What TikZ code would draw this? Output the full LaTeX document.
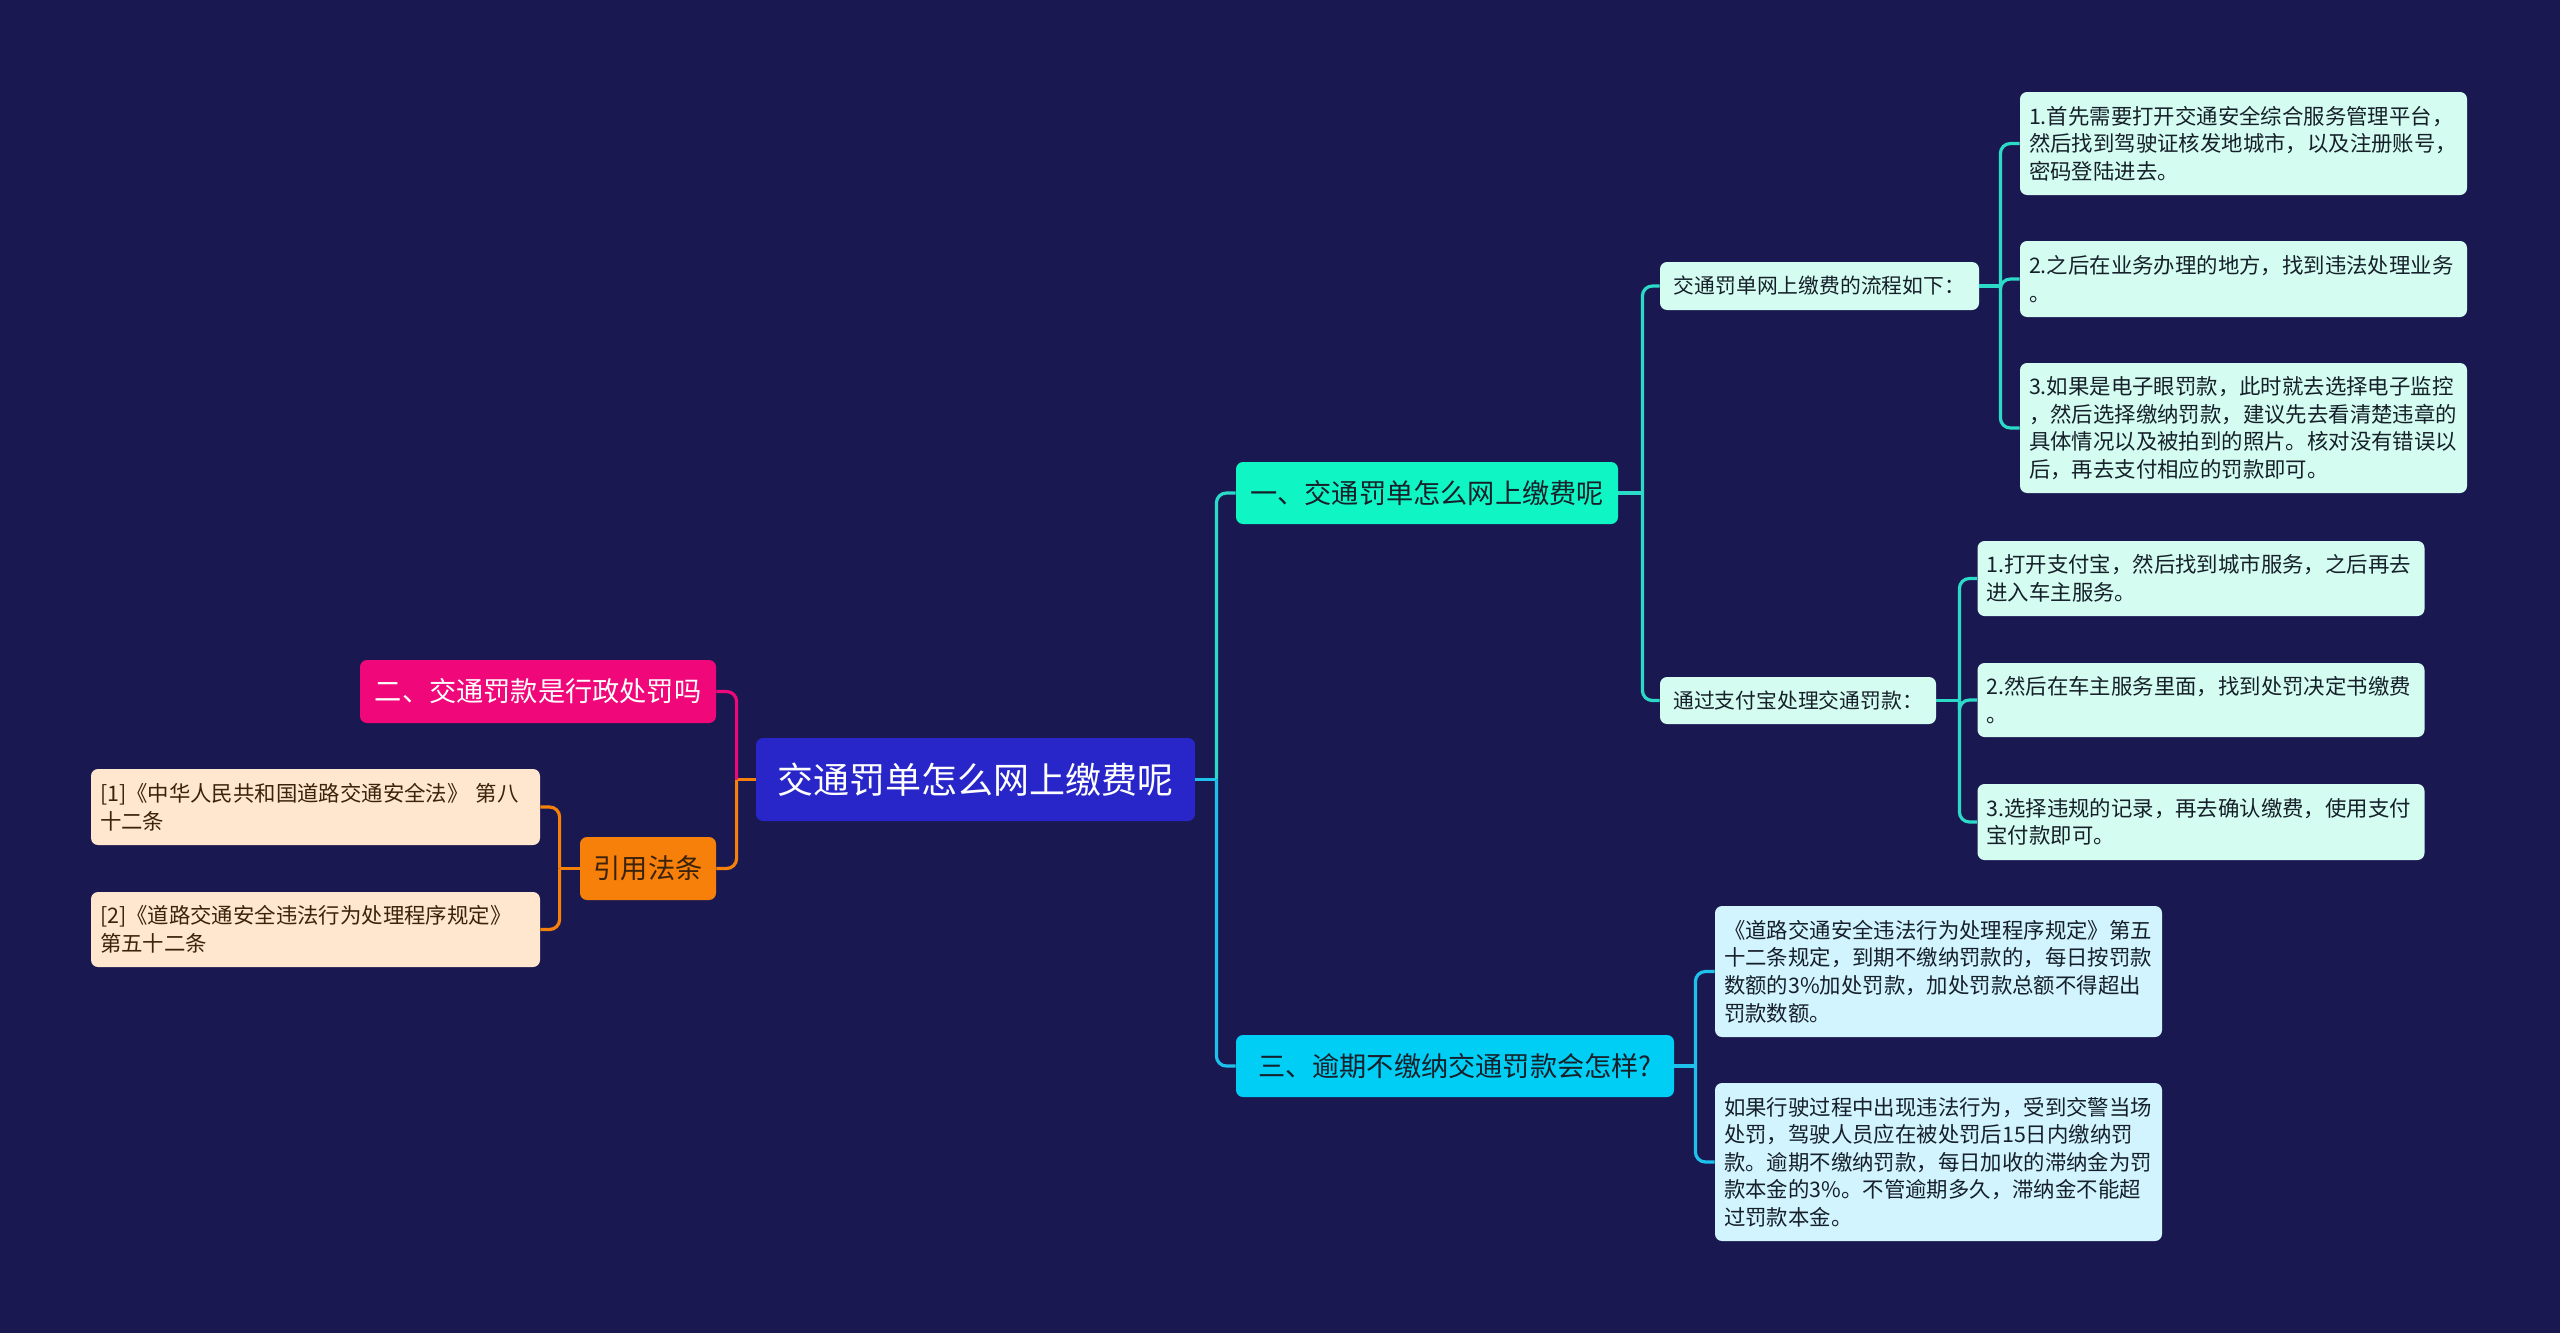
\documentclass[tikz,border=0pt]{standalone}
\usepackage{fontspec}
\setmainfont{Noto Sans CJK SC}
\definecolor{bgnavy}{RGB}{26,24,80}
\definecolor{rootblue}{RGB}{40,38,200}
\definecolor{mintbr}{RGB}{16,245,196}
\definecolor{cyanbr}{RGB}{0,206,245}
\definecolor{pinkbr}{RGB}{240,8,122}
\definecolor{orangebr}{RGB}{247,128,10}
\definecolor{mintleaf}{RGB}{212,252,240}
\definecolor{cyanleaf}{RGB}{210,244,254}
\definecolor{peachleaf}{RGB}{255,230,206}
\definecolor{mintline}{RGB}{44,218,200}
\definecolor{cyanline}{RGB}{30,192,236}
\definecolor{inkdark}{RGB}{22,32,42}
\definecolor{inkbrown}{RGB}{58,34,12}
\tikzset{
  box/.style={rounded corners=3.5pt, inner xsep=4.5pt, inner ysep=2pt, anchor=center},
  rootbox/.style={box, fill=rootblue, text=white, font=\fontsize{18}{22}\selectfont},
  branchbox/.style={box, text=inkdark, font=\fontsize{13.6}{16}\selectfont},
  subbox/.style={box, fill=mintleaf, text=inkdark, font=\fontsize{10.4}{13}\selectfont},
  leafbox/.style={box, align=left, text width=214.5pt, text=inkdark, font=\fontsize{10.7}{13.8}\selectfont},
  link/.style={line width=1.6pt, rounded corners=5pt},
}

\begin{document}
\begin{tikzpicture}[x=0.5pt, y=-0.5pt]
  \fill[bgnavy] (0,0) rectangle (2560,1333);

  % centre and main branches
  \node[rootbox, minimum width=219.5pt, minimum height=41.5pt] (root) at (975.5,779.5) {交通罚单怎么网上缴费呢};
  \node[branchbox, fill=mintbr, minimum width=191pt, minimum height=31pt] (pay) at (1427,493) {一、交通罚单怎么网上缴费呢};
  \node[branchbox, fill=cyanbr, minimum width=219pt, minimum height=31pt] (late) at (1455,1066) {三、逾期不缴纳交通罚款会怎样?};
  \node[branchbox, fill=pinkbr, text=white, minimum width=178pt, minimum height=31.5pt] (admin) at (538,691.5) {二、交通罚款是行政处罚吗};
  \node[branchbox, fill=orangebr, text=inkbrown, minimum width=68pt, minimum height=31.5pt] (cite) at (648,868.5) {引用法条};

  % cited laws
  \node[leafbox, fill=peachleaf, text=inkbrown, text width=215.5pt, minimum height=38pt] (lawa) at (315.5,807) {[1]《中华人民共和国道路交通安全法》 第八\\十二条};
  \node[leafbox, fill=peachleaf, text=inkbrown, text width=215.5pt, minimum height=37.5pt] (lawb) at (315.5,929.5) {[2]《道路交通安全违法行为处理程序规定》\\第五十二条};

  % online payment
  \node[subbox, minimum width=159.5pt, minimum height=24pt] (flow) at (1819.5,286) {交通罚单网上缴费的流程如下：};
  \node[subbox, minimum width=138pt, minimum height=23.5pt] (alipay) at (1798,700.5) {通过支付宝处理交通罚款：};

  \node[leafbox, fill=mintleaf, minimum height=51.5pt] (flowa) at (2243.5,143.5) {1.首先需要打开交通安全综合服务管理平台，\\然后找到驾驶证核发地城市，以及注册账号，\\密码登陆进去。};
  \node[leafbox, fill=mintleaf, minimum height=38pt] (flowb) at (2243.5,279) {2.之后在业务办理的地方，找到违法处理业务\\。};
  \node[leafbox, fill=mintleaf, minimum height=65pt] (flowc) at (2243.5,428) {3.如果是电子眼罚款，此时就去选择电子监控\\，然后选择缴纳罚款，建议先去看清楚违章的\\具体情况以及被拍到的照片。核对没有错误以\\后，再去支付相应的罚款即可。};

  \node[leafbox, fill=mintleaf, minimum height=37.5pt] (alia) at (2201,578.5) {1.打开支付宝，然后找到城市服务，之后再去\\进入车主服务。};
  \node[leafbox, fill=mintleaf, minimum height=37pt] (alib) at (2201,700) {2.然后在车主服务里面，找到处罚决定书缴费\\。};
  \node[leafbox, fill=mintleaf, minimum height=38pt] (alic) at (2201,822) {3.选择违规的记录，再去确认缴费，使用支付\\宝付款即可。};

  % overdue fines
  \node[leafbox, fill=cyanleaf, minimum height=65.5pt] (latea) at (1938.5,971.5) {《道路交通安全违法行为处理程序规定》第五\\十二条规定，到期不缴纳罚款的，每日按罚款\\数额的3\%加处罚款，加处罚款总额不得超出\\罚款数额。};
  \node[leafbox, fill=cyanleaf, minimum height=79pt] (lateb) at (1938.5,1162) {如果行驶过程中出现违法行为，受到交警当场\\处罚，驾驶人员应在被处罚后15日内缴纳罚\\款。逾期不缴纳罚款，每日加收的滞纳金为罚\\款本金的3\%。不管逾期多久，滞纳金不能超\\过罚款本金。};

  % connectors
  \draw[link, cyanline] (root.east) -- ++(21,0);
  \draw[link, mintline] (root.east) ++(21,0) |- (pay.west);
  \draw[link, cyanline] (root.east) ++(21,0) |- (late.west);
  \draw[link, orangebr] (root.west) -- ++(-19,0);
  \draw[link, pinkbr] (root.west) ++(-19,0) |- (admin.east);
  \draw[link, orangebr] (root.west) ++(-19,0) |- (cite.east);

  \draw[link, orangebr] (cite.west) -- ++(-20,0);
  \foreach \n in {lawa,lawb}
    \draw[link, orangebr] (cite.west) ++(-20,0) |- (\n.east);

  \draw[link, mintline] (pay.east) -- ++(24,0);
  \foreach \n in {flow,alipay}
    \draw[link, mintline] (pay.east) ++(24,0) |- (\n.west);

  \draw[link, mintline] (flow.east) -- ++(21,0);
  \foreach \n in {flowa,flowb,flowc}
    \draw[link, mintline] (flow.east) ++(21,0) |- (\n.west);

  \draw[link, mintline] (alipay.east) -- ++(23,0);
  \foreach \n in {alia,alib,alic}
    \draw[link, mintline] (alipay.east) ++(23,0) |- (\n.west);

  \draw[link, cyanline] (late.east) -- ++(21,0);
  \foreach \n in {latea,lateb}
    \draw[link, cyanline] (late.east) ++(21,0) |- (\n.west);
\end{tikzpicture}
\end{document}
